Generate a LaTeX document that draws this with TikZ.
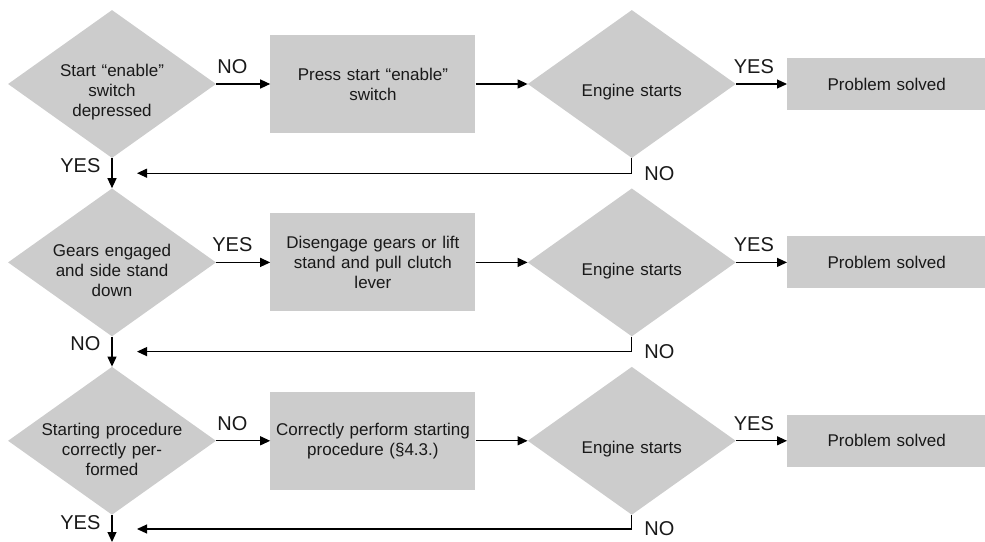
\documentclass[tikz,border=0pt]{standalone}
\usepackage{fontspec}
\setmainfont{Liberation Sans}
\definecolor{boxgray}{RGB}{204, 204, 204}
\definecolor{ink}{RGB}{25, 25, 25}
\usetikzlibrary{shapes.geometric, arrows.meta, positioning, calc}

\begin{document}
\begin{tikzpicture}[
        x=1pt, y=1pt,
        every node/.style={font=\fontsize{17}{20}\selectfont, text=ink},
        decision/.style={diamond, fill=boxgray, align=center, text width=145pt, shape aspect=1.4, minimum width=208pt, minimum height=148pt, inner xsep=-12pt, inner ysep=-14pt, execute at begin node={\rule{0pt}{29pt}}},
        action/.style={rectangle, fill=boxgray, align=center, text width=200pt, inner sep=2.5pt, minimum height=98pt},
        done/.style={rectangle, fill=boxgray, align=center, text width=195pt, inner sep=2pt, minimum height=52pt},
        flow/.style={-{Triangle[length=10pt, width=9pt]}, line width=1.2pt, black},
        answer/.style={font=\fontsize{20}{22}\selectfont, inner sep=2pt}
    ]
        \useasboundingbox (0,0) rectangle (985,-541);

        % row 1
        \node[decision] (enable) at (112,-84) {Start “enable”\\switch\\depressed};
        \node[action, right=54pt of enable] (press) {Press start “enable”\\switch};
        \node[decision, right=52pt of press] (eng1) {Engine starts};
        \node[done, right=51pt of eng1] (ok1) {Problem solved};

        % row 2
        \node[decision, below=30pt of enable] (gears) {Gears engaged\\and side stand\\down};
        \node[action, right=54pt of gears] (diseng) {Disengage gears or lift\\stand and pull clutch\\lever};
        \node[decision, right=52pt of diseng] (eng2) {Engine starts};
        \node[done, right=51pt of eng2] (ok2) {Problem solved};

        % row 3
        \node[decision, below=30pt of gears] (proc) {Starting procedure\\correctly per-\\formed};
        \node[action, right=54pt of proc] (perform) {Correctly perform starting\\procedure (§4.3.)};
        \node[decision, right=52pt of perform] (eng3) {Engine starts};
        \node[done, right=51pt of eng3] (ok3) {Problem solved};

        \coordinate (back1) at ($(enable.south)!0.5!(gears.north)+(25pt,0)$);
        \coordinate (back2) at ($(gears.south)!0.5!(proc.north)+(25pt,0)$);
        \coordinate (back3) at ($(proc.south)+(25pt,-14pt)$);
        \coordinate (end3) at ($(proc.south)+(0,-27pt)$);

        \draw[flow] (enable) -- node[answer, pos=0.3, above=8pt]{NO} (press);
        \draw[flow] (press) -- (eng1);
        \draw[flow] (eng1) -- node[answer, pos=0.35, above=8pt]{YES} (ok1);
        \draw[flow] (enable) -- node[answer, pos=0.25, left=9pt]{YES} (gears);
        \draw[flow] (eng1.south) |- node[answer, pos=0.5, right=10pt]{NO} (back1);

        \draw[flow] (gears) -- node[answer, pos=0.3, above=8pt]{YES} (diseng);
        \draw[flow] (diseng) -- (eng2);
        \draw[flow] (eng2) -- node[answer, pos=0.35, above=8pt]{YES} (ok2);
        \draw[flow] (gears) -- node[answer, pos=0.25, left=9pt]{NO} (proc);
        \draw[flow] (eng2.south) |- node[answer, pos=0.5, right=10pt]{NO} (back2);

        \draw[flow] (proc) -- node[answer, pos=0.3, above=8pt]{NO} (perform);
        \draw[flow] (perform) -- (eng3);
        \draw[flow] (eng3) -- node[answer, pos=0.35, above=8pt]{YES} (ok3);
        \draw[flow] (proc) -- node[answer, pos=0.3, left=9pt]{YES} (end3);
        \draw[flow] (eng3.south) |- node[answer, pos=0.5, right=10pt]{NO} (back3);
    \end{tikzpicture}
\end{document}
